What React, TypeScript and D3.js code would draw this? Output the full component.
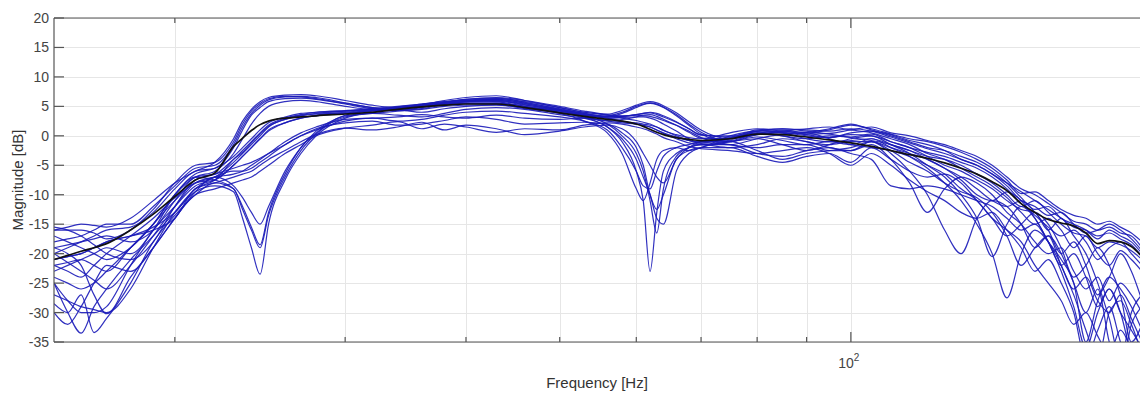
import React from "react";
import * as d3 from "d3";

const FREQS = [15, 15.5, 16, 16.5, 17, 18, 19, 20, 21, 22, 23, 23.5, 24, 24.5, 25, 26, 27, 28, 30, 32, 34, 36, 38, 40, 43, 46, 50, 53, 56, 58, 60, 61, 62, 63, 64, 66, 68, 70, 75, 80, 85, 90, 95, 100, 105, 110, 115, 120, 125, 130, 135, 140, 145, 150, 155, 160, 165, 170, 175, 180, 185, 190, 195, 200];

const C01 = [-16, -15.5, -15, -15.2, -15.5, -14, -11, -8, -6, -4.5, -0.5, 2.5, 4.5, 5.8, 6.5, 6.9, 7.0, 6.8, 6.0, 5.2, 4.8, 5.3, 6.0, 6.5, 6.8, 6.0, 4.8, 4.0, 3.7, 4.3, 5.2, 5.6, 5.8, 5.6, 5.1, 3.9, 2.4, 1.0, -0.5, 0.8, 1.0, 0.5, 1.0, 1.8, 1.2, 0.3, -0.5, -1, -1.8, -2.8, -4, -5.5, -7.5, -9.8, -9.5, -11, -12.5, -13.5, -14, -15, -14.5, -15.5, -16.5, -18];
const C02 = [-18, -17.5, -17, -16, -15, -15, -12, -8.5, -5.5, -5, -1.5, 1.5, 3.8, 5.2, 6.1, 6.6, 6.7, 6.5, 5.6, 4.8, 4.4, 4.8, 5.6, 6.2, 6.4, 5.7, 4.5, 3.7, 3.4, 4.0, 5.0, 5.4, 5.6, 5.4, 4.9, 3.6, 2.0, 0.6, -0.8, 0.4, 0.8, 0.3, 0.4, 1.0, 1.5, 0.5, 0, -0.8, -1.5, -2.5, -3.5, -5, -7, -9, -10, -11.5, -13, -14.5, -15, -16, -15.5, -16.5, -17, -19];
const C03 = [-20, -19, -18, -17, -16, -15.5, -13, -9, -6, -5.5, -2, 1, 3.5, 4.8, 5.8, 6.3, 6.4, 6.2, 5.4, 4.6, 4.3, 4.6, 5.3, 5.9, 6.2, 5.5, 4.3, 3.5, 3.2, 3.8, 4.8, 5.3, 5.5, 5.3, 4.8, 3.4, 1.8, 0.3, -1.0, 0.2, 0.5, 0.0, -0.3, 0.5, 0.8, 0, -1, -2, -2.5, -3.5, -4.5, -6, -8, -10.5, -12.5, -12, -14, -15, -16, -17.5, -16, -17, -18, -20];
const C04 = [-17, -18, -19, -20, -21, -19, -15, -10, -7, -6, -3, -0.5, 2, 3.8, 5, 5.8, 6.0, 5.8, 5.0, 4.5, 4.6, 5.2, 5.7, 6.0, 6.2, 5.6, 4.6, 3.8, 3.3, 3.3, 3.6, 3.8, 3.9, 3.6, 3.2, 2.3, 1.2, 0.2, -0.2, 1.0, 1.2, 0.8, 0.3, -0.3, -0.8, -1.5, -2.5, -3.5, -4, -5, -6.5, -8, -10, -12, -11, -13, -15, -16.5, -17, -19, -18, -18.5, -19.5, -21];
const C05 = [-22, -23, -24, -22, -20, -17, -14, -10.5, -8, -7, -4.5, -3, -1.5, 0, 1.5, 2.8, 3.5, 3.8, 4.2, 4.6, 5.0, 5.4, 5.8, 6.0, 5.8, 5.0, 4.0, 3.0, 1.5, -1, -6, -11, -23, -13, -6, -3, -2, -1.5, -1.5, -0.5, 0.3, 0.5, -0.5, -1.5, -2, -2.5, -3.5, -5, -6.5, -9, -11, -14, -16, -18, -22, -25, -28, -32, -30, -34, -37, -33, -36, -38];
const C06 = [-25, -28, -30, -30, -29, -22, -16, -12, -8.5, -7.5, -5, -3.5, -2, -0.5, 1, 2.2, 3, 3.4, 3.8, 4.2, 4.8, 5.3, 5.6, 5.8, 5.9, 5.2, 4.4, 3.3, 2.0, 0, -3, -6, -11, -16.5, -9, -3.5, -2, -1.5, -2, -1.5, -0.5, -1, -2, -2.5, -1.5, -4, -8, -13, -9, -7, -8, -10, -13, -15, -18, -20, -19, -23, -26, -24, -28, -25, -27, -30];
const C07 = [-21, -20.5, -20, -19, -18, -17, -15.5, -13, -9, -7.5, -4, -2.5, -1, 0.5, 1.8, 3, 3.6, 4, 4.3, 4.5, 4.8, 5.2, 5.5, 5.8, 6.0, 5.4, 4.5, 3.8, 3.2, 3.1, 3.2, 3.2, 3.0, 2.6, 2.0, 0.8, -0.5, -1.2, -0.5, 0.5, 0, -1, -1.5, -1, -1, -3, -6, -10, -16, -20, -14, -11, -12, -15, -19, -17, -22, -26, -24, -28, -30, -27, -31, -35];
const C08 = [-25, -30, -33.5, -29, -26, -21, -17, -13, -9.5, -8.5, -9.5, -14, -19, -23.5, -15, -7.5, -3, 0, 3, 4.0, 4.6, 5.0, 5.3, 5.5, 5.5, 4.8, 4.0, 3.2, 1.5, -0.5, -4, -7, -10, -14, -15, -6, -3, -2, -1, -0.5, -1.5, -2.5, -1.5, -0.5, 0, -1.5, -3, -5, -7, -10, -14, -20.5, -15, -12, -14, -18, -22, -20, -24, -29, -26, -30, -33, -36];
const C09 = [-28.5, -30, -27, -33.4, -31, -25, -18, -13.5, -10, -8, -9, -12.5, -16, -19, -13.5, -7, -2.5, 0.3, 3.2, 3.8, 4.2, 4.5, 5.0, 5.2, 5.3, 4.6, 3.8, 2.5, 0.5, -3, -9, -11, -8, -4, -2.5, -2, -2.5, -2, 0, 0.8, 0.5, -0.5, -1, -0.8, -0.5, -2, -3.5, -5.5, -8, -11, -15, -20, -27.5, -20, -16, -18, -22, -27, -33, -38, -30, -28, -32, -37];
const C10 = [-24, -25, -26, -25, -23, -19, -15, -10, -7, -7.5, -9, -12, -15.5, -18.5, -13, -6.5, -2, 0.5, 3.4, 3.8, 3.5, 3.2, 3.8, 4.5, 4.8, 4.5, 3.6, 3.0, 2.6, 2.4, 2.2, 2.0, 1.8, 1.5, 1.0, 0, -0.8, -1.3, -1.5, -3, -3.5, -2.5, -2, -3, -4, -8.5, -9, -8.5, -9, -10, -11, -12, -14, -16, -15, -18, -21, -25, -35, -28, -24, -26, -29, -33];
const C11 = [-19, -20, -22, -27, -30.2, -24, -19, -14, -9.5, -7, -8.5, -10.5, -13, -15, -12, -6, -2, 0.8, 3.5, 4.3, 4.8, 5.0, 5.4, 5.6, 5.6, 5.0, 4.2, 3.5, 3.0, 2.8, 3.2, 3.5, 3.6, 3.3, 2.8, 1.8, 0.6, -0.4, -0.5, 0.2, 0.8, 1.2, 1.5, 1.0, 0.5, -0.5, -1.5, -3, -4, -5.5, -7, -8.5, -10.5, -13, -15, -14, -16, -19, -17, -20, -22, -19.5, -21, -23];
const C12 = [-27, -28, -29, -29.5, -30, -26, -19, -13, -9, -7, -6, -6, -5.5, -4.5, -3.5, -1.5, 0, 1, 2.5, 3.0, 2.5, 2.8, 3.5, 4.0, 4.2, 3.8, 3.2, 2.5, 1.0, -2, -6, -8.5, -9, -6, -3.5, -2, -1.5, -1, -1, -2.5, -4, -3, -2.5, -2, -1, -2, -3, -4, -5.5, -7.5, -10, -11, -9.5, -11, -14, -18, -23, -29, -36, -30, -26, -30, -37, -40];
const C13 = [-21, -20.5, -20, -19, -18, -17, -16, -14, -9, -8, -7, -6.5, -6, -5, -4, -2.5, -1, 0.2, 1.3, 1.0, 1.5, 2.3, 1.0, 1.8, 1.2, 0.2, 0.8, 1.5, 1.8, 1.2, -1, -3, -5, -7, -8, -4, -2, -1, -0.3, 0.5, 0, -0.5, 0, -0.2, 0.3, -1, -2, -3.5, -5, -6, -7.5, -9, -11, -12.5, -13, -16, -14, -17, -20, -25, -31, -38, -30, -27];
const C14 = [-15.5, -16, -17, -18.5, -20, -21, -18, -12, -7.5, -6.5, -5.5, -5, -4.5, -3.8, -3, -1.5, 0, 1.2, 2.2, 2.5, 1.8, 2.0, 2.6, 3.2, 2.8, 2.0, 2.2, 2.3, 2, 0.5, -2, -5, -10, -12.5, -10, -4, -2.5, -2, -2, -3.5, -4.5, -3.5, -3, -4.5, -2, -4, -6, -7, -6.5, -8, -11, -14, -17, -15, -13, -15, -19, -24, -22, -19, -22, -27, -35, -32];
const C15 = [-23, -22, -21, -20, -19, -20, -16, -10, -6.5, -5.5, -3.5, -2, -0.5, 1, 2.2, 3.2, 3.8, 4.0, 4.2, 4.5, 4.8, 5.2, 5.6, 6.0, 6.3, 5.8, 4.8, 4.0, 3.5, 3.0, 2.6, 2.3, 2.0, 1.5, 0.9, 0.2, -0.3, -0.5, 0.5, 1.2, 0.8, 0.6, 1.2, 2, 1, 0.2, -0.8, -1.5, -2.5, -4, -5, -6.5, -8.5, -11, -12, -13.5, -13, -15, -16.5, -16, -15, -16, -17.5, -19.5];
const C16 = [-19, -18.5, -18, -17.5, -17, -18, -16, -11, -7, -6.5, -4, -2.8, -1.2, 0.3, 1.6, 2.8, 3.4, 3.7, 3.9, 4.3, 4.4, 4.0, 4.6, 5.0, 5.2, 4.8, 4.3, 3.6, 3.0, 2.5, 2.0, 1.8, 1.5, 1.0, 0.4, -0.5, -1.2, -1.5, -1, -0.2, -0.8, -1.5, -1, -1.5, -0.5, -1.5, -2.5, -4, -5.5, -7, -9, -11, -12, -11, -13, -16, -20, -18, -22, -27, -24, -20, -23, -28];
const C17 = [-30, -32, -29, -25, -22, -23, -19, -14, -10, -9, -8, -7.5, -7, -6, -5, -3, -1.5, 0, 1.3, 1.8, 2.4, 1.2, 2.0, 1.5, 0.6, 1.2, 1.0, 1.8, 2.2, 2.0, 1.5, 1.2, 0.8, 0.3, -0.3, -1.0, -1.8, -2.2, -2.5, -3, -2.5, -2, -3, -5, -3, -5, -7.5, -9.5, -11, -13, -14, -13, -16, -19, -23, -21, -25, -30, -38, -33, -29, -35, -40, -36];
const C18 = [-20, -21.5, -23, -24.5, -26, -22, -17, -12, -8, -7, -6.5, -6, -5, -4, -3, -1, 0.5, 1.5, 2.8, 3.0, 3.2, 3.6, 3.2, 3.0, 3.5, 3.0, 2.8, 3.0, 2.5, 2.2, 2.0, 1.8, 1.5, 1.0, 0.5, -0.2, -0.8, -1, -0.5, 0.3, 0.6, 0.2, -0.3, 0.2, 0, -1, -2, -2.8, -3.5, -4.5, -5.5, -7, -9, -11.5, -13.5, -15.5, -17, -16, -18, -21, -19, -18, -20, -22];
const C19 = [-16, -16, -16, -16.5, -17.5, -16, -12.5, -8, -5, -4.5, -1, 2, 4.2, 5.5, 6.3, 6.7, 6.6, 6.3, 5.5, 4.8, 4.5, 4.9, 5.4, 5.8, 6.0, 5.3, 4.2, 3.5, 3.2, 3.3, 3.5, 3.4, 3.3, 3.0, 2.6, 1.8, 0.8, -0.3, -1.5, -2, -1.5, -1.5, -2.5, -2.5, -1, -2.5, -4.5, -6, -8, -9.5, -10.5, -13, -17, -22, -19, -17, -20, -25, -30, -26, -35, -40, -32, -29];
const C20 = [-22, -21.5, -21, -22, -23, -19, -15, -11, -8, -7.5, -5, -3.5, -2, -0.5, 0.8, 2.2, 3, 3.5, 4, 4.4, 4.9, 5.4, 5.8, 6.2, 6.5, 6.0, 5.0, 4.2, 3.6, 3.4, 3.6, 3.8, 4.0, 3.8, 3.4, 2.4, 1.2, 0.1, 0, 0.8, 1.2, 1.0, 0.8, 1.2, 0.8, -0.2, -1.2, -2.2, -3, -4, -5, -6.5, -8, -9.5, -11, -12.5, -14, -15.5, -16, -17, -16.5, -17.5, -18.5, -20.5];

const MEAN = [-21, -20.3, -19.6, -19, -18.3, -16, -13.3, -10.3, -7.5, -6.3, -1.8, -0.4, 0.9, 1.9, 2.5, 3.0, 3.2, 3.4, 3.7, 4.0, 4.5, 4.9, 5.2, 5.4, 5.4, 4.8, 3.9, 3.3, 2.8, 2.5, 2.0, 1.6, 1.1, 0.6, 0.2, -0.3, -0.6, -0.8, -0.5, 0.3, 0.2, -0.2, -0.7, -1.2, -1.8, -2.5, -3.2, -3.8, -4.6, -5.5, -6.5, -7.8, -9.3, -11.5, -13, -14.2, -14.8, -15.3, -16.5, -18.3, -17.8, -18, -18.8, -20.5];

const BLUE_SERIES = [C01, C02, C03, C04, C05, C06, C07, C08, C09, C10, C11, C12, C13, C14, C15, C16, C17, C18, C19, C20];

const Y_TICKS = [-35, -30, -25, -20, -15, -10, -5, 0, 5, 10, 15, 20];
const X_MINOR = [20, 30, 40, 50, 60, 70, 80, 90, 200];
const X_MAJOR = [100];

const FONT = "'Liberation Sans', Arial, Helvetica, sans-serif";

export default function App() {
  const W = 1140;
  const H = 394;
  const x = d3.scaleLog().domain([15, 200]).range([54, 1142]);
  const y = d3.scaleLinear().domain([-35, 20]).range([342, 18]);
  const [x0, x1] = x.range();
  const [yb, yt] = y.range();

  const line = d3
    .line<number>()
    .x((_, i) => x(FREQS[i]))
    .y((d) => y(d))
    .curve(d3.curveMonotoneX);

  return (
    <svg
      width={W}
      height={H}
      style={{ position: "absolute", left: 0, top: 0, background: "#fff" }}
      fontFamily={FONT}
    >
      <defs>
        <clipPath id="plotclip">
          <rect x={x0} y={yt} width={x1 - x0} height={yb - yt} />
        </clipPath>
      </defs>
      <rect x={0} y={0} width={W} height={H} fill="#fff" />
      <g stroke="#e6e6e6" strokeWidth={1}>
        {Y_TICKS.map((t) => (
          <line key={"gy" + t} x1={x0} x2={x1} y1={Math.round(y(t)) + 0.5} y2={Math.round(y(t)) + 0.5} />
        ))}
        {[...X_MINOR, ...X_MAJOR].map((t) => (
          <line key={"gx" + t} x1={Math.round(x(t)) + 0.5} x2={Math.round(x(t)) + 0.5} y1={yt} y2={yb} />
        ))}
      </g>
      <g clipPath="url(#plotclip)" fill="none">
        {BLUE_SERIES.map((s, i) => (
          <path key={i} d={line(s) || ""} stroke="#1a1ab8" strokeWidth={1.2} strokeOpacity={0.9} />
        ))}
        <path d={line(MEAN) || ""} stroke="#111" strokeWidth={1.7} />
      </g>
      <g stroke="#555" strokeWidth={1.2} fill="none">
        <line x1={x0} x2={x1} y1={yt} y2={yt} />
        <line x1={x0} x2={x1} y1={yb} y2={yb} />
        <line x1={x0} x2={x0} y1={yt} y2={yb} />
        {Y_TICKS.map((t) => (
          <line key={"ty" + t} x1={x0} x2={x0 + 10} y1={y(t)} y2={y(t)} />
        ))}
        {X_MINOR.map((t) => (
          <g key={"tx" + t}>
            <line x1={x(t)} x2={x(t)} y1={yb} y2={yb - 5} />
            <line x1={x(t)} x2={x(t)} y1={yt} y2={yt + 5} />
          </g>
        ))}
        {X_MAJOR.map((t) => (
          <g key={"tX" + t}>
            <line x1={x(t)} x2={x(t)} y1={yb} y2={yb - 10} />
            <line x1={x(t)} x2={x(t)} y1={yt} y2={yt + 10} />
          </g>
        ))}
      </g>
      <g fill="#444" fontSize={14}>
        {Y_TICKS.map((t) => (
          <text key={"ly" + t} x={x0 - 5} y={y(t)} textAnchor="end" dominantBaseline="central">
            {t}
          </text>
        ))}
        {X_MAJOR.map((t) => (
          <text key={"lx" + t} x={x(t) - 2} y={368} textAnchor="middle">
            10
            <tspan dy={-7} fontSize={10}>
              2
            </tspan>
          </text>
        ))}
      </g>
      <text x={597} y={388} textAnchor="middle" fontSize={15} fill="#333">
        Frequency [Hz]
      </text>
      <text transform="translate(23,180) rotate(-90)" textAnchor="middle" fontSize={15} fill="#333">
        Magnitude [dB]
      </text>
    </svg>
  );
}
